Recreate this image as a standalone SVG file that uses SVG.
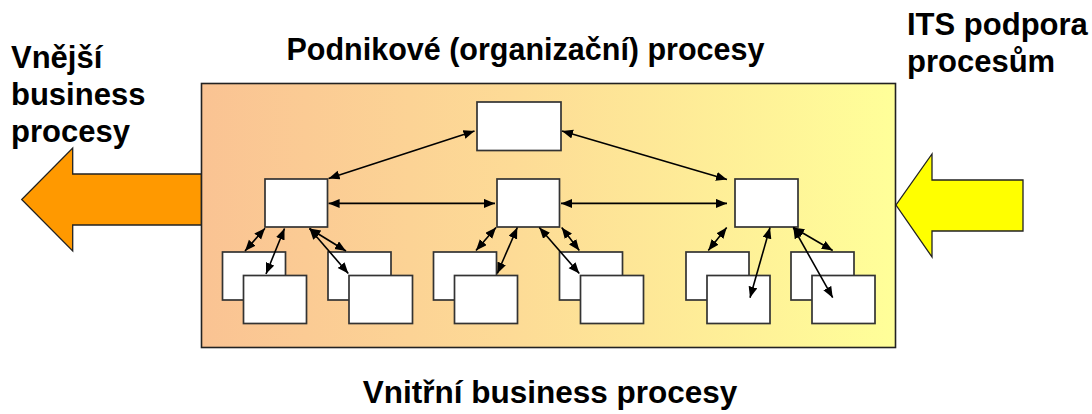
<svg xmlns="http://www.w3.org/2000/svg" width="1092" height="414" viewBox="0 0 1092 414">
<style>
  .t { font-family: "Liberation Sans", Arial, sans-serif; font-weight: bold; font-size: 31px; fill: #000; }
  .bx { fill: #fff; stroke: #333; stroke-width: 1.7; }
  .ln { stroke: #000; stroke-width: 1.6; fill: none; marker-start: url(#ah); marker-end: url(#ah); }
</style>
<defs>
  <linearGradient id="bg" x1="0" y1="0" x2="1" y2="0">
    <stop offset="0" stop-color="#FAC393"/>
    <stop offset="0.45" stop-color="#FDDB96"/>
    <stop offset="1" stop-color="#FFFF99"/>
  </linearGradient>
  <marker id="ah" markerUnits="userSpaceOnUse" markerWidth="12" markerHeight="10" refX="11" refY="4.5" orient="auto-start-reverse" viewBox="0 0 12 10">
    <path d="M0,0 L11,4.5 L0,9 z" fill="#000"/>
  </marker>
</defs>
<rect width="1092" height="414" fill="#fff"/>

<g id="arrow-out">
  <polygon points="201.5,174 72.7,174 72.7,148 21.7,199.5 72.7,251 72.7,225 201.5,225" fill="#FF9900" stroke="#222" stroke-width="1.3"/>
</g>
<g id="main-box">
  <rect x="201.5" y="83.5" width="694" height="264" fill="url(#bg)" stroke="#222" stroke-width="1.6"/>
</g>
<g id="arrow-in">
  <polygon points="1023,180 932,180 932,154 896,205 932,257 932,231 1023,231" fill="#FFFF00" stroke="#222" stroke-width="1.3"/>
</g>

<g id="top"><rect class="bx" x="477" y="102" width="84" height="48.5"/></g>
<g id="mid-left"><rect class="bx" x="265" y="179" width="62.5" height="48"/></g>
<g id="mid-center"><rect class="bx" x="497" y="179" width="62.5" height="48"/></g>
<g id="mid-right"><rect class="bx" x="735" y="179" width="63" height="48"/></g>

<g id="sub1"><rect class="bx" x="222.5" y="252" width="63" height="48"/><rect class="bx" x="243.5" y="275.5" width="63" height="48"/></g>
<g id="sub2"><rect class="bx" x="328" y="252" width="63" height="48"/><rect class="bx" x="349" y="275.5" width="63.5" height="48"/></g>
<g id="sub3"><rect class="bx" x="433.5" y="252" width="63" height="48"/><rect class="bx" x="454.5" y="275.5" width="63" height="48"/></g>
<g id="sub4"><rect class="bx" x="559.5" y="252" width="63" height="48"/><rect class="bx" x="580.5" y="275.5" width="63" height="48"/></g>
<g id="sub5"><rect class="bx" x="686" y="252" width="63" height="48"/><rect class="bx" x="707" y="275.5" width="63" height="48"/></g>
<g id="sub6"><rect class="bx" x="791" y="252" width="63" height="48"/><rect class="bx" x="812" y="275.5" width="63" height="48"/></g>

<g id="connectors">
  <line class="ln" x1="474.5" y1="131" x2="328.6" y2="178.5"/>
  <line class="ln" x1="562" y1="131" x2="727" y2="179.5"/>
  <line class="ln" x1="328.6" y1="203.4" x2="495" y2="203.4"/>
  <line class="ln" x1="561" y1="203.4" x2="727" y2="203.4"/>

  <line class="ln" x1="265" y1="228.3" x2="245" y2="251"/>
  <line class="ln" x1="284.5" y1="228.5" x2="266" y2="274"/>
  <line class="ln" x1="309.5" y1="228.5" x2="346" y2="251"/>
  <line class="ln" x1="309.5" y1="228.5" x2="348.3" y2="273.5"/>

  <line class="ln" x1="496" y1="227.5" x2="476" y2="250.5"/>
  <line class="ln" x1="517.3" y1="227.5" x2="497.3" y2="273.5"/>
  <line class="ln" x1="539.3" y1="227.5" x2="579.3" y2="273.5"/>
  <line class="ln" x1="561.7" y1="227.5" x2="579.3" y2="250.5"/>

  <line class="ln" x1="726.7" y1="227.5" x2="708.3" y2="250.5"/>
  <line class="ln" x1="770" y1="227.5" x2="750" y2="297.7"/>
  <line class="ln" x1="793.3" y1="227.5" x2="832.7" y2="250.5"/>
  <line class="ln" x1="793.3" y1="227.5" x2="832.7" y2="297.7"/>
</g>

<text class="t" x="525.5" y="60" text-anchor="middle" style="font-size:30.5px">Podnikové (organizační) procesy</text>
<text class="t" x="11" y="68">Vnější</text>
<text class="t" x="11" y="105">business</text>
<text class="t" x="11" y="142">procesy</text>
<text class="t" x="907" y="35">ITS podpora</text>
<text class="t" x="907" y="72">procesům</text>
<text class="t" x="550" y="403" text-anchor="middle" style="font-size:31.5px">Vnitřní business procesy</text>
</svg>
